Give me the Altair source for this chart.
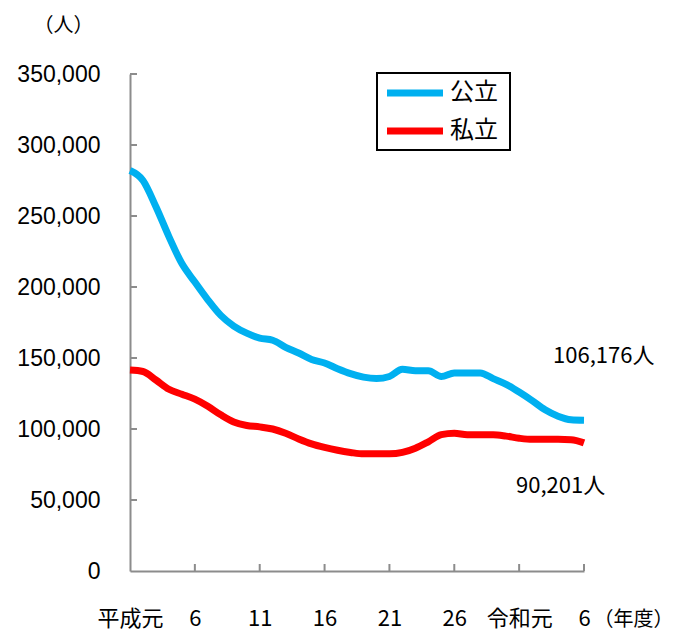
import altair as alt
import pandas as pd

# ---- data ----
years = list(range(1989, 2025))  # 平成元 (1989) … 令和6 (2024)
public = [282000, 275000, 256500, 235500, 216500, 203500, 191000, 180000, 172500, 167500,
          164000, 162500, 157500, 153500, 149000, 146500, 142500, 139000, 136500, 135500,
          137000, 142000, 141000, 141000, 137000, 139500, 139500, 139500, 135500, 131500,
          126000, 120000, 113500, 109000, 106500, 106176]
private = [141500, 140500, 134500, 128000, 124500, 121000, 116000, 110000, 105000, 102500,
           101500, 100000, 97000, 93000, 89500, 87000, 85000, 83500, 82500, 82500,
           82500, 83500, 86500, 91000, 96000, 97000, 96000, 96000, 96000, 95000,
           93500, 92700, 92700, 92700, 92500, 90201]
series = ["公立", "私立"]
colors = ["#00B0F0", "#FF0000"]
y_ticks = [0, 50000, 100000, 150000, 200000, 250000, 300000, 350000]
x_ticks = [1989, 1994, 1999, 2004, 2009, 2014, 2019, 2024]
end_labels = ["106,176人", "90,201人"]
end_values = [106176, 90201]

df = pd.DataFrame({
    "year": years * 2,
    "value": public + private,
    "series": [series[0]] * len(years) + [series[1]] * len(years),
})

W, H = 454, 497
JP = "Noto Sans CJK JP"
AX = "#8c8c8c"
xscale = alt.Scale(domain=[years[0], years[-1]], nice=False, zero=False)
yscale = alt.Scale(domain=[y_ticks[0], y_ticks[-1]], nice=False)

label_expr = ("datum.value == 1989 ? '平成元' : datum.value == 2019 ? '令和元' : "
              "datum.value > 2019 ? '' + (datum.value - 2018) : '' + (datum.value - 1988)")

x_axis = alt.Axis(
    values=x_ticks, labelExpr=label_expr, ticks=False, grid=False,
    domainColor=AX, domainWidth=2, labelFont=JP, labelFontSize=22,
    labelColor="black", labelPadding=37, labelOverlap=False, labelBound=False,
    labelFlush=False, title="（年度）", titleX=463, titleY=48, titleAlign="left",
    titleBaseline="middle", titleFont=JP, titleFontSize=20,
    titleFontWeight="normal", titleColor="black")
y_axis = alt.Axis(
    values=y_ticks, labelExpr="format(datum.value, ',')", ticks=False, grid=False,
    domainColor=AX, domainWidth=2, labelFont="Liberation Sans", labelFontSize=23,
    labelColor="black", labelPadding=30, title="（人）", titleAngle=0,
    titleX=-67, titleY=-49, titleAlign="center", titleBaseline="middle",
    titleFont=JP, titleFontSize=20, titleFontWeight="normal", titleColor="black")

lines = alt.Chart(df).mark_line(strokeWidth=7, interpolate="monotone").encode(
    x=alt.X("year:Q", scale=xscale, axis=x_axis),
    y=alt.Y("value:Q", scale=yscale, axis=y_axis),
    color=alt.Color("series:N", scale=alt.Scale(domain=series, range=colors), legend=None),
    detail="series:N",
)

# inward tick marks
ytick_df = pd.DataFrame({"value": y_ticks[1:]})
yticks = alt.Chart(ytick_df).mark_rule(color=AX, strokeWidth=2).encode(
    y=alt.Y("value:Q", scale=yscale, axis=y_axis),
    x=alt.value(0), x2=alt.value(7),
)
xtick_df = pd.DataFrame({"year": x_ticks[1:]})
xticks = alt.Chart(xtick_df).mark_rule(color=AX, strokeWidth=2).encode(
    x=alt.X("year:Q", scale=xscale, axis=x_axis),
    y=alt.value(H), y2=alt.value(H - 7),
)

# end labels
def end_label(i, dx, dy):
    d = pd.DataFrame({"year": [years[-1]], "value": [end_values[i]], "t": [end_labels[i]]})
    return alt.Chart(d).mark_text(
        font=JP, fontSize=22, align="left", baseline="middle", dx=dx, dy=dy, color="black"
    ).encode(x=alt.X("year:Q", scale=xscale, axis=x_axis),
             y=alt.Y("value:Q", scale=yscale, axis=y_axis), text="t:N")

lab1 = end_label(0, -31, -64)
lab2 = end_label(1, -68, 43)

# legend box (drawn by hand to match the reference)
leg_df = pd.DataFrame({"s": series})
box = alt.Chart(leg_df.head(1)).mark_rect(fill="white", stroke="black", strokeWidth=2).encode(
    x=alt.value(247), x2=alt.value(380), y=alt.value(-1), y2=alt.value(76))
leg_parts = [box]
for i, (s, c) in enumerate(zip(series, colors)):
    yy = 19 + i * 38
    sub = leg_df[leg_df["s"] == s]
    leg_parts.append(alt.Chart(sub).mark_rule(color=c, strokeWidth=7).encode(
        x=alt.value(257), x2=alt.value(313), y=alt.value(yy)))
    leg_parts.append(alt.Chart(sub).mark_text(font=JP, fontSize=24, align="left",
                                              baseline="middle", color="black").encode(
        x=alt.value(320), y=alt.value(yy), text="s:N"))

chart = alt.layer(lines, yticks, xticks, lab1, lab2, *leg_parts).properties(
    width=W, height=H,
    autosize=alt.AutoSizeParams(type="none"),
    padding={"left": 122, "top": 66, "right": 91, "bottom": 60},
    background="white",
).configure_view(stroke=None)

chart.save("out.html", embed_options={"renderer": "svg", "actions": False})
